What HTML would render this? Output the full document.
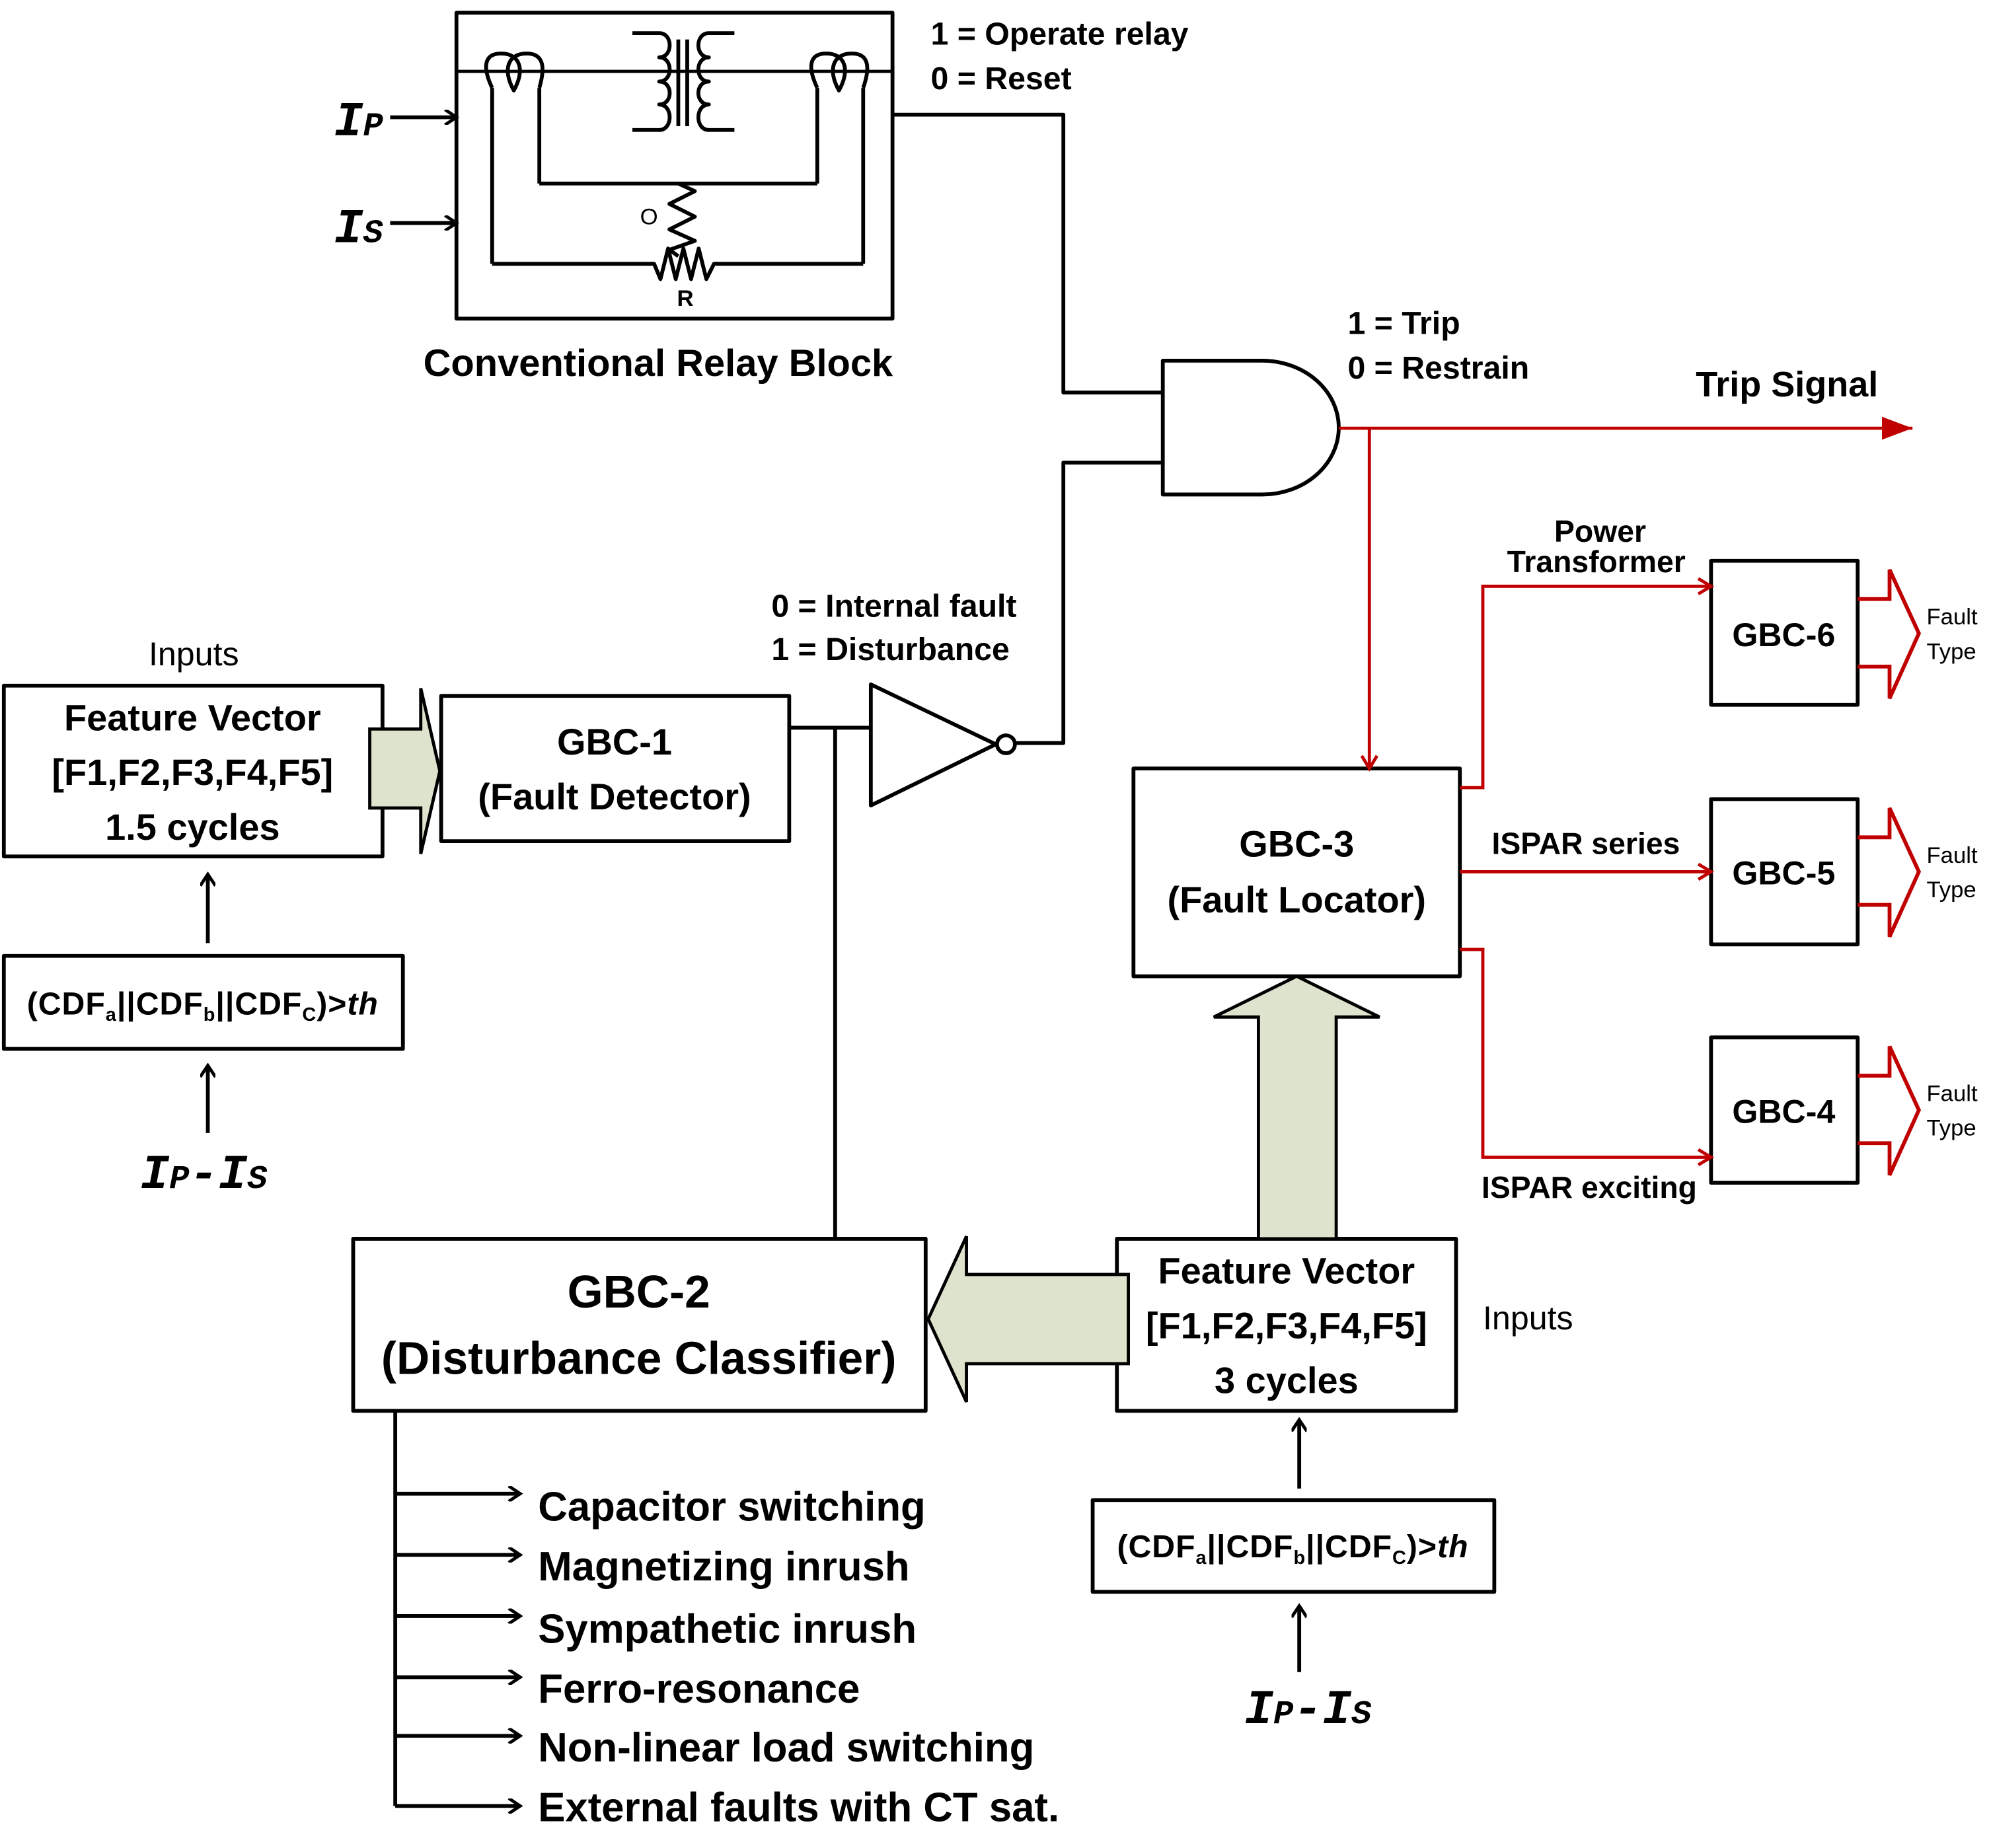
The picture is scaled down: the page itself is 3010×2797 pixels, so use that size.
<!DOCTYPE html>
<html><head><meta charset="utf-8"><style>
html,body{margin:0;padding:0;background:#fff;}
svg{display:block;}
</style></head><body>
<svg width="3010" height="2797" viewBox="0 0 1560 1450" preserveAspectRatio="none" xmlns="http://www.w3.org/2000/svg" font-family="Liberation Sans, sans-serif">
<defs>
<marker id="ab" markerWidth="12" markerHeight="12" refX="10" refY="6" orient="auto" markerUnits="userSpaceOnUse"><path d="M1,0 L10,6 L1,12" fill="none" stroke="#000" stroke-width="2.5"/></marker>
<marker id="ar" markerWidth="14" markerHeight="14" refX="11" refY="7" orient="auto" markerUnits="userSpaceOnUse"><path d="M1,1 L11,7 L1,13" fill="none" stroke="#c00000" stroke-width="2.5"/></marker>
<marker id="arf" markerWidth="26" markerHeight="22" refX="24" refY="11" orient="auto" markerUnits="userSpaceOnUse"><path d="M0,2 L24,11 L0,20 Z" fill="#c00000"/></marker>
</defs>
<g fill="none" stroke="#000" stroke-width="3" stroke-linejoin="round">
<!-- relay block -->
<rect x="358" y="10" width="342" height="240"/>
<line x1="358" y1="56" x2="700" y2="56" stroke-width="2.5"/>
<!-- CTs -->
<path d="M386,69 C378,52 380,42 393,42 C408,42 412,55 403,71 C394,55 398,42 413,42 C426,42 428,52 423,69"/>
<path d="M641,69 C633,52 635,42 648,42 C663,42 667,55 658,71 C649,55 653,42 668,42 C681,42 683,52 677,69"/>
<line x1="386" y1="69" x2="386" y2="207"/>
<line x1="423" y1="69" x2="423" y2="144"/>
<line x1="423" y1="144" x2="641" y2="144"/>
<line x1="641" y1="69" x2="641" y2="144"/>
<line x1="677" y1="69" x2="677" y2="207"/>
<!-- transformer -->
<path d="M496,26 L517,26 C528,26 528,45 517,45 C528,45 528,64 517,64 C528,64 528,82 517,82 C528,82 528,102 517,102 L496,102"/>
<path d="M576,26 L556,26 C545,26 545,45 556,45 C545,45 545,64 556,64 C545,64 545,82 556,82 C545,82 545,102 556,102 L576,102"/>
<line x1="532" y1="31" x2="532" y2="99"/><line x1="539" y1="31" x2="539" y2="99"/>
<!-- resistors -->
<path d="M532,144 L545,150 L525,160 L545,170 L525,180 L545,189 L525,196 L532,201"/>
<path d="M386,207 L513,207 L518,219 L524,195 L530,219 L536,195 L542,219 L548,195 L554,219 L560,207 L677,207"/>
<!-- inputs -->
<line x1="306" y1="92" x2="358" y2="92" marker-end="url(#ab)"/>
<line x1="306" y1="175" x2="358" y2="175" marker-end="url(#ab)"/>
<!-- relay output -->
<polyline points="700,90 834,90 834,308 912,308"/>
<polyline points="797,583 834,583 834,363 912,363"/>
<!-- AND gate -->
<path d="M912,283 L990,283 A60,52.5 0 0 1 990,388 L912,388 Z"/>
<!-- buffer -->
<path d="M683,537 L683,632 L781,584 Z"/>
<circle cx="789" cy="584" r="7"/>
<polyline points="620,571 683,571"/>
<line x1="655" y1="571" x2="655" y2="972"/>
<!-- boxes -->
<rect x="3" y="538" width="297" height="134"/>
<rect x="346" y="546" width="273" height="114"/>
<rect x="3" y="750" width="313" height="73"/>
<rect x="889" y="603" width="256" height="163"/>
<rect x="1342" y="440" width="115" height="113"/>
<rect x="1342" y="627" width="115" height="114"/>
<rect x="1342" y="814" width="115" height="114"/>
<rect x="277" y="972" width="449" height="135"/>
<rect x="876" y="972" width="266" height="135"/>
<rect x="857" y="1177" width="315" height="72"/>
<line x1="163" y1="740" x2="163" y2="686" marker-end="url(#ab)"/>
<line x1="163" y1="889" x2="163" y2="836" marker-end="url(#ab)"/>
<line x1="1019" y1="1168" x2="1019" y2="1114" marker-end="url(#ab)"/>
<line x1="1019" y1="1312" x2="1019" y2="1260" marker-end="url(#ab)"/>
<!-- list -->
<line x1="310" y1="1107" x2="310" y2="1417"/>
<line x1="310" y1="1172" x2="408" y2="1172" marker-end="url(#ab)"/>
<line x1="310" y1="1220" x2="408" y2="1220" marker-end="url(#ab)"/>
<line x1="310" y1="1268" x2="408" y2="1268" marker-end="url(#ab)"/>
<line x1="310" y1="1316" x2="408" y2="1316" marker-end="url(#ab)"/>
<line x1="310" y1="1362" x2="408" y2="1362" marker-end="url(#ab)"/>
<line x1="310" y1="1417" x2="408" y2="1417" marker-end="url(#ab)"/>
</g>
<!-- big green arrows -->
<g fill="#dde3cc" stroke="#000" stroke-width="2.5">
<polygon points="290,572 330,572 330,540 345,605 330,670 330,634 290,634"/>
<polygon points="885,1000 758,1000 758,970 728,1035 758,1100 758,1070 885,1070"/>
<polygon points="987,972 987,798 952,798 1017,766 1082,798 1048,798 1048,972"/>
</g>
<!-- red -->
<g fill="none" stroke="#c00000" stroke-width="2.5">
<line x1="1050" y1="336" x2="1500" y2="336" marker-end="url(#arf)"/>
<line x1="1074" y1="336" x2="1074" y2="603" marker-end="url(#ar)"/>
<polyline points="1145,618 1163,618 1163,460 1342,460" marker-end="url(#ar)"/>
<line x1="1145" y1="684" x2="1342" y2="684" marker-end="url(#ar)"/>
<polyline points="1145,745 1163,745 1163,908 1342,908" marker-end="url(#ar)"/>
<path d="M1457,470 L1482,470 L1482,447 L1505,497 L1482,548 L1482,523 L1457,523" stroke-width="3"/>
<path d="M1457,657 L1482,657 L1482,634 L1505,684 L1482,735 L1482,710 L1457,710" stroke-width="3"/>
<path d="M1457,844 L1482,844 L1482,821 L1505,871 L1482,922 L1482,897 L1457,897" stroke-width="3"/>
</g>
<!-- text -->
<g fill="#000" font-weight="bold">
<text x="730" y="35" font-size="25">1 = Operate relay</text>
<text x="730" y="70" font-size="25">0 = Reset</text>
<text x="502" y="176" font-size="18" font-weight="normal">O</text>
<text x="531" y="240" font-size="18">R</text>
<text x="332" y="295" font-size="30">Conventional Relay Block</text>
<text x="1057" y="262" font-size="25">1 = Trip</text>
<text x="1057" y="297" font-size="25">0 = Restrain</text>
<text x="1330" y="311" font-size="28">Trip Signal</text>
<text x="1255" y="425" font-size="24" text-anchor="middle">Power</text>
<text x="1252" y="449" font-size="24" text-anchor="middle">Transformer</text>
<text x="605" y="484" font-size="25">0 = Internal fault</text>
<text x="605" y="518" font-size="25">1 = Disturbance</text>
<text x="152" y="522" font-size="26" font-weight="normal" text-anchor="middle">Inputs</text>
<text x="151" y="573" font-size="29" text-anchor="middle">Feature Vector</text>
<text x="151" y="616" font-size="29" text-anchor="middle">[F1,F2,F3,F4,F5]</text>
<text x="151" y="659" font-size="29" text-anchor="middle">1.5 cycles</text>
<text x="482" y="592" font-size="29" text-anchor="middle">GBC-1</text>
<text x="482" y="635" font-size="29" text-anchor="middle">(Fault Detector)</text>
<text x="1017" y="672" font-size="29" text-anchor="middle">GBC-3</text>
<text x="1017" y="716" font-size="29" text-anchor="middle">(Fault Locator)</text>
<text x="1170" y="670" font-size="24">ISPAR series</text>
<text x="1162" y="940" font-size="24">ISPAR exciting</text>
<text x="1399" y="507" font-size="26" text-anchor="middle">GBC-6</text>
<text x="1399" y="694" font-size="26" text-anchor="middle">GBC-5</text>
<text x="1399" y="881" font-size="26" text-anchor="middle">GBC-4</text>
<g font-size="18" font-weight="normal">
<text x="1511" y="490">Fault</text><text x="1511" y="517">Type</text>
<text x="1511" y="677">Fault</text><text x="1511" y="704">Type</text>
<text x="1511" y="864">Fault</text><text x="1511" y="891">Type</text>
</g>
<text x="159" y="796" font-size="25" text-anchor="middle" letter-spacing="0.5">(CDF<tspan font-size="15" dy="5">a</tspan><tspan dy="-5">||CDF</tspan><tspan font-size="15" dy="5">b</tspan><tspan dy="-5">||CDF</tspan><tspan font-size="15" dy="5">C</tspan><tspan dy="-5">)&gt;</tspan><tspan font-style="italic">th</tspan></text>
<text x="1014" y="1222" font-size="25" text-anchor="middle" letter-spacing="0.5">(CDF<tspan font-size="15" dy="5">a</tspan><tspan dy="-5">||CDF</tspan><tspan font-size="15" dy="5">b</tspan><tspan dy="-5">||CDF</tspan><tspan font-size="15" dy="5">C</tspan><tspan dy="-5">)&gt;</tspan><tspan font-style="italic">th</tspan></text>
<g style="font-family:'Liberation Mono',monospace;font-style:italic;" font-size="38">
<text x="262" y="106">I<tspan font-size="26">P</tspan></text>
<text x="262" y="190">I<tspan font-size="26">S</tspan></text>
<text x="110" y="932">I<tspan font-size="26">P</tspan>-I<tspan font-size="26">S</tspan></text>
<text x="976" y="1352">I<tspan font-size="26">P</tspan>-I<tspan font-size="26">S</tspan></text>
</g>
<text x="501" y="1026" font-size="36" text-anchor="middle">GBC-2</text>
<text x="501" y="1078" font-size="36" text-anchor="middle">(Disturbance Classifier)</text>
<text x="1009" y="1007" font-size="29" text-anchor="middle">Feature Vector</text>
<text x="1009" y="1050" font-size="29" text-anchor="middle">[F1,F2,F3,F4,F5]</text>
<text x="1009" y="1093" font-size="29" text-anchor="middle">3 cycles</text>
<text x="1163" y="1043" font-size="26" font-weight="normal">Inputs</text>
<g font-size="32">
<text x="422" y="1193">Capacitor switching</text>
<text x="422" y="1240">Magnetizing inrush</text>
<text x="422" y="1289">Sympathetic inrush</text>
<text x="422" y="1336">Ferro-resonance</text>
<text x="422" y="1382">Non-linear load switching</text>
<text x="422" y="1429">External faults with CT sat.</text>
</g>
</g>
</svg>
</body></html>
